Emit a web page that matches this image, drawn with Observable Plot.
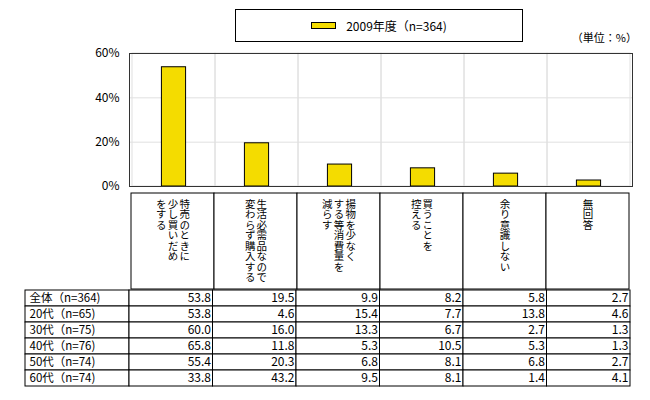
<!DOCTYPE html>
<html><head><meta charset="utf-8">
<script src="https://cdn.jsdelivr.net/npm/d3@7"></script>
<script src="https://cdn.jsdelivr.net/npm/@observablehq/plot@0.6"></script>
<style>
body{margin:0;background:#fff;font-family:"Noto Sans CJK JP","Noto Sans",sans-serif;color:#000;}
#wrap{position:relative;width:650px;height:400px;overflow:hidden;}
#legend{position:absolute;left:235px;top:9px;width:286px;height:31px;border:1px solid #000;display:flex;align-items:center;justify-content:center;font-size:12px;z-index:2;}
.sw{display:inline-block;width:23px;height:5px;background:#f4dc00;border:1px solid #000;margin-right:10px;}
#unit{position:absolute;right:13px;top:29px;font-size:11px;z-index:2;}
#charts svg{display:block;overflow:visible;}
</style></head>
<body><div id="wrap"><div id="legend"><span class="sw"></span><span id="legtext"></span></div><div id="unit"></div><div id="charts"></div></div>
<script>
// ---- data ----
const categories = ["特売のときに少し買いだめをする", "生活必需品なので変わらず購入する", "揚物を少なくする等消費量を減らす", "買うことを控える", "余り意識しない", "無回答"];
const categoryLines = [
  ["特売のときに", "少し買いだめ", "をする"],
  ["生活必需品なので", "変わらず購入する"],
  ["揚物を少なく", "する等消費量を", "減らす"],
  ["買うことを", "控える"],
  ["余り意識しない"],
  ["無回答"]
];
const seriesName = "2009年度（n=364)";
const totalValues = [53.8, 19.5, 9.9, 8.2, 5.8, 2.7];
const yTicks = [0, 20, 40, 60];
const unitLabel = "（単位：%）";
const rowLabels = ["全体（n=364)", "20代（n=65)", "30代（n=75)", "40代（n=76)", "50代（n=74)", "60代（n=74)"];
const row0 = [53.8, 19.5, 9.9, 8.2, 5.8, 2.7];
const row20 = [53.8, 4.6, 15.4, 7.7, 13.8, 4.6];
const row30 = [60.0, 16.0, 13.3, 6.7, 2.7, 1.3];
const row40 = [65.8, 11.8, 5.3, 10.5, 5.3, 1.3];
const row50 = [55.4, 20.3, 6.8, 8.1, 6.8, 2.7];
const row60 = [33.8, 43.2, 9.5, 8.1, 1.4, 4.1];
const rowValues = [row0, row20, row30, row40, row50, row60];

// ---- layout ----
const W = 650;
const FONT = '"Noto Sans CJK JP", "Noto Sans", sans-serif';
const baseStyle = {fontFamily: FONT, fontSize: "12px", background: "transparent", overflow: "visible", color: "#000"};
const chartML = 129, chartMR = 18;
const step = (W - chartML - chartMR) / categories.length;
const barW = 25;
const inset = (step - barW) / 2;

document.getElementById("legtext").textContent = seriesName;
document.getElementById("unit").textContent = unitLabel;

const barData = categories.map((c, i) => ({category: c, value: totalValues[i]}));

const chart = Plot.plot({
  width: W, height: 193,
  marginTop: 53, marginBottom: 7, marginLeft: chartML, marginRight: chartMR,
  style: baseStyle,
  x: {domain: categories, padding: 0, axis: null},
  y: {domain: [0, 60], ticks: yTicks, tickFormat: d => d + "%", tickSize: 0, tickPadding: 10, label: null},
  marks: [
    Plot.barY(categories, {x: d => d, y1: 0, y2: 60, fill: "none", stroke: "#e0e0e0"}),
    Plot.ruleY(yTicks.filter(t => t > 0 && t < 60), {stroke: "#e0e0e0"}),
    Plot.barY(barData, {x: "category", y: "value", fill: "#f4dc00", stroke: "#000", insetLeft: inset, insetRight: inset}),
    Plot.frame({stroke: "#333"})
  ]
});

// header with vertical category labels (columns right-to-left)
const colPitch = 11.7;
const headerCols = categories.flatMap((c, i) => categoryLines[i].map((t, k, arr) => ({category: c, text: t, offset: ((arr.length - 1) / 2 - k) * colPitch})));
const offsets = [...new Set(headerCols.map(d => d.offset))];

const header = Plot.plot({
  width: W, height: 96,
  marginTop: 0, marginBottom: 0, marginLeft: 129, marginRight: 20,
  style: baseStyle,
  x: {domain: categories, padding: 0, axis: null},
  marks: [
    Plot.cell(categories, {x: d => d, fill: "white", stroke: "#000"}),
    ...offsets.map(o => Plot.text(headerCols.filter(d => d.offset === o), {
      x: "category", text: "text", frameAnchor: "top", dy: 5, dx: o,
      textAnchor: "start", lineAnchor: "bottom", fontSize: 10.5, fill: "#000"
    }))
  ]
});
header.querySelectorAll('g[aria-label="text"] text').forEach(t => {
  t.style.writingMode = "vertical-rl";
  t.style.textOrientation = "upright";
  t.removeAttribute("y");
});

// data table
const tML = 25, tMR = 20;
const catW = (W - 129 - tMR) / categories.length;
const labelUnits = (129 - tML) / catW;
const cellData = rowLabels.flatMap((r, ri) => [{row: r, x1: -labelUnits, x2: 0}].concat(categories.map((c, ci) => ({row: r, x1: ci, x2: ci + 1}))));
const valueData = rowLabels.flatMap((r, ri) => rowValues[ri].map((v, ci) => ({row: r, col: ci, value: v})));

const table = Plot.plot({
  width: W, height: 111,
  marginTop: 0, marginBottom: 14, marginLeft: tML, marginRight: tMR,
  style: baseStyle,
  x: {domain: [-labelUnits, categories.length], axis: null},
  y: {domain: rowLabels, padding: 0, axis: null},
  marks: [
    Plot.barX(cellData, {x1: "x1", x2: "x2", y: "row", fill: "white", stroke: "#000"}),
    Plot.text(valueData, {x: d => d.col + 1, y: "row", text: d => d.value.toFixed(1), textAnchor: "end", dx: -2, fontSize: 12, fill: "#000"}),
    Plot.text(rowLabels, {x: () => -labelUnits, y: d => d, text: d => d, textAnchor: "start", dx: 4, fontSize: 11.5, fill: "#000"})
  ]
});

const host = document.getElementById("charts");
host.appendChild(chart);
host.appendChild(header);
host.appendChild(table);
</script>
</body></html>
